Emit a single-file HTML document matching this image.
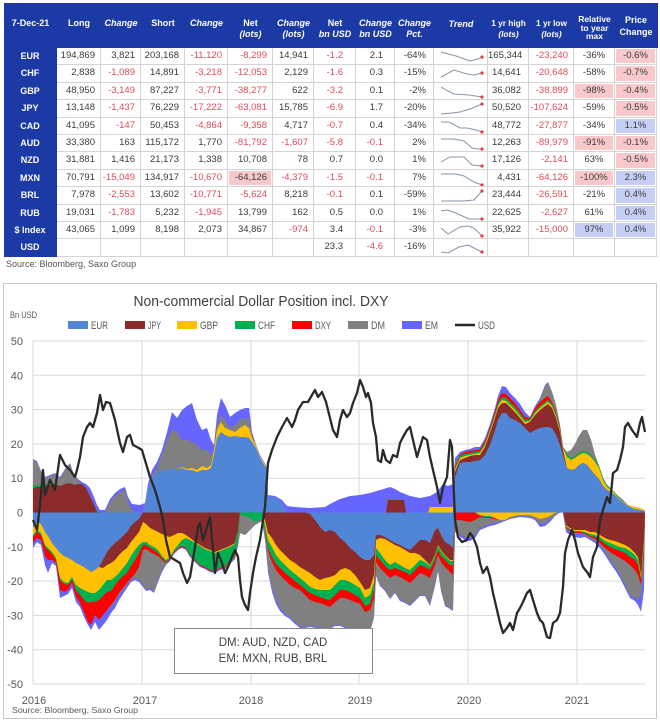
<!DOCTYPE html>
<html><head><meta charset="utf-8">
<style>
body{margin:0;width:660px;height:722px;position:relative;background:#fff;font-family:"Liberation Sans",Arial,sans-serif;overflow:hidden}
.hdr{position:absolute;left:4px;top:3px;width:654px;height:45px;background:#1c3aa6}
.h{position:absolute;color:#fff;font-weight:bold;font-size:9px;text-align:center;line-height:11px;white-space:nowrap}
.grid{position:absolute;left:4px;top:48px;display:grid;grid-template-columns:53px 44px 40px 44px 43px 45px 41px 42px 39px 39px 54px 41px 45px 41px 42px;grid-template-rows:repeat(12,17.42px)}
.grid div{box-sizing:border-box;border-right:1px solid #d4d4d4;border-bottom:1px solid #d4d4d4;font-size:9.5px;line-height:16.4px;text-align:right;padding-right:5px;color:#3a3a3a;white-space:nowrap;overflow:hidden}
.grid div:nth-child(15n+8){padding-right:12px}
.grid div:nth-child(15n+9){padding-right:11px}
.grid div:nth-child(15n+10){padding-right:7px}
.grid div:nth-child(15n+12){padding-right:7px}
.grid div:nth-child(15n+14),.grid div:nth-child(15n+15){text-align:center;padding-right:0}
.grid div.l{background:#1c3aa6;color:#fff;font-weight:bold;text-align:center;padding:0;border-color:#1c3aa6;font-size:9px}
.grid div.t{padding:0}
.grid .r{color:#e04a5a}
.grid .pk{background:#f8c8ca;box-shadow:inset 0 0 0 1px #fff}
.grid .bl{background:#c5cff5;box-shadow:inset 0 0 0 1px #fff}
.t svg{display:block}
.src{position:absolute;left:6px;top:259px;font-size:9px;color:#555}
svg.ch{position:absolute;left:0;top:0}
</style></head><body>
<div class="hdr"></div>
<div class="h" style="left:4px;width:53px;top:17.5px">7-Dec-21</div>
<div class="h" style="left:57px;width:44px;top:17.5px">Long</div>
<div class="h" style="left:101px;width:40px;top:17.5px"><i>Change</i></div>
<div class="h" style="left:141px;width:44px;top:17.5px">Short</div>
<div class="h" style="left:185px;width:43px;top:17.5px"><i>Change</i></div>
<div class="h" style="left:228px;width:45px;top:17.5px">Net<br><i>(lots)</i></div>
<div class="h" style="left:273px;width:41px;top:17.5px"><i>Change<br>(lots)</i></div>
<div class="h" style="left:314px;width:42px;top:17.5px">Net<br><i>bn USD</i></div>
<div class="h" style="left:356px;width:39px;top:17.5px"><i>Change<br>bn USD</i></div>
<div class="h" style="left:395px;width:39px;top:17.5px"><i>Change<br>Pct.</i></div>
<div class="h" style="left:434px;width:54px;top:19px"><i>Trend</i></div>
<div class="h" style="left:488px;width:41px;top:17.5px;font-size:8.3px">1 yr high<br><i>(lots)</i></div>
<div class="h" style="left:529px;width:45px;top:17.5px;font-size:8.3px">1 yr low<br><i>(lots)</i></div>
<div class="h" style="left:574px;width:41px;top:15px;line-height:8.5px;font-size:8.5px">Relative<br>to year<br>max</div>
<div class="h" style="left:615px;width:42px;top:14px;line-height:12px">Price<br>Change</div>

<div class="grid">
<div class="l">EUR</div><div>194,869</div><div>3,821</div><div>203,168</div><div class="r">-11,120</div><div class="r">-8,299</div><div>14,941</div><div class="r">-1.2</div><div>2.1</div><div>-64%</div><div class="t"><svg width="53" height="16"><polyline points="7,4 22,8 36,13 44,11 48,9" fill="none" stroke="#8795ab" stroke-width="1"/><circle cx="48" cy="9" r="1.6" fill="#e23a4a"/></svg></div><div>165,344</div><div class="r">-23,240</div><div>-36%</div><div class="pk">-0.6%</div>
<div class="l">CHF</div><div>2,838</div><div class="r">-1,089</div><div>14,891</div><div class="r">-3,218</div><div class="r">-12,053</div><div>2,129</div><div class="r">-1.6</div><div>0.3</div><div>-15%</div><div class="t"><svg width="53" height="16"><polyline points="7,12 20,5 33,9 40,10 48,8" fill="none" stroke="#8795ab" stroke-width="1"/><circle cx="48" cy="8" r="1.6" fill="#e23a4a"/></svg></div><div>14,641</div><div class="r">-20,648</div><div>-58%</div><div class="pk">-0.7%</div>
<div class="l">GBP</div><div>48,950</div><div class="r">-3,149</div><div>87,227</div><div class="r">-3,771</div><div class="r">-38,277</div><div>622</div><div class="r">-3.2</div><div>0.1</div><div>-2%</div><div class="t"><svg width="53" height="16"><polyline points="7,4 14,8 20,11 35,12 48,14" fill="none" stroke="#8795ab" stroke-width="1"/><circle cx="48" cy="14" r="1.6" fill="#e23a4a"/></svg></div><div>36,082</div><div class="r">-38,899</div><div class="pk">-98%</div><div class="pk">-0.4%</div>
<div class="l">JPY</div><div>13,148</div><div class="r">-1,437</div><div>76,229</div><div class="r">-17,222</div><div class="r">-63,081</div><div>15,785</div><div class="r">-6.9</div><div>1.7</div><div>-20%</div><div class="t"><svg width="53" height="16"><polyline points="7,14 18,13 26,12 36,9 48,4" fill="none" stroke="#8795ab" stroke-width="1"/><circle cx="48" cy="4" r="1.6" fill="#e23a4a"/></svg></div><div>50,520</div><div class="r">-107,624</div><div>-59%</div><div class="pk">-0.5%</div>
<div class="l">CAD</div><div>41,095</div><div class="r">-147</div><div>50,453</div><div class="r">-4,864</div><div class="r">-9,358</div><div>4,717</div><div class="r">-0.7</div><div>0.4</div><div>-34%</div><div class="t"><svg width="53" height="16"><polyline points="7,4 15,4 26,10 33,10 42,12 48,14" fill="none" stroke="#8795ab" stroke-width="1"/><circle cx="48" cy="14" r="1.6" fill="#e23a4a"/></svg></div><div>48,772</div><div class="r">-27,877</div><div>-34%</div><div class="bl">1.1%</div>
<div class="l">AUD</div><div>33,380</div><div>163</div><div>115,172</div><div>1,770</div><div class="r">-81,792</div><div class="r">-1,607</div><div class="r">-5.8</div><div class="r">-0.1</div><div>2%</div><div class="t"><svg width="53" height="16"><polyline points="7,4 20,4 30,6 38,13 43,14 48,14" fill="none" stroke="#8795ab" stroke-width="1"/><circle cx="48" cy="14" r="1.6" fill="#e23a4a"/></svg></div><div>12,263</div><div class="r">-89,979</div><div class="pk">-91%</div><div class="pk">-0.1%</div>
<div class="l">NZD</div><div>31,881</div><div>1,416</div><div>21,173</div><div>1,338</div><div>10,708</div><div>78</div><div>0.7</div><div>0.0</div><div>1%</div><div class="t"><svg width="53" height="16"><polyline points="7,10 16,5 30,5 38,13 48,14" fill="none" stroke="#8795ab" stroke-width="1"/><circle cx="48" cy="14" r="1.6" fill="#e23a4a"/></svg></div><div>17,126</div><div class="r">-2,141</div><div>63%</div><div class="pk">-0.5%</div>
<div class="l">MXN</div><div>70,791</div><div class="r">-15,049</div><div>134,917</div><div class="r">-10,670</div><div class="pk">-64,126</div><div class="r">-4,379</div><div class="r">-1.5</div><div class="r">-0.1</div><div>7%</div><div class="t"><svg width="53" height="16"><polyline points="7,4 22,4 30,6 40,12 48,15" fill="none" stroke="#8795ab" stroke-width="1"/><circle cx="48" cy="15" r="1.6" fill="#e23a4a"/></svg></div><div>4,431</div><div class="r">-64,126</div><div class="pk">-100%</div><div class="bl">2.3%</div>
<div class="l">BRL</div><div>7,978</div><div class="r">-2,553</div><div>13,602</div><div class="r">-10,771</div><div class="r">-5,624</div><div>8,218</div><div class="r">-0.1</div><div>0.1</div><div>-59%</div><div class="t"><svg width="53" height="16"><polyline points="7,14 30,14 40,13 48,4" fill="none" stroke="#8795ab" stroke-width="1"/><circle cx="48" cy="4" r="1.6" fill="#e23a4a"/></svg></div><div>23,444</div><div class="r">-26,591</div><div>-21%</div><div class="bl">0.4%</div>
<div class="l">RUB</div><div>19,031</div><div class="r">-1,783</div><div>5,232</div><div class="r">-1,945</div><div>13,799</div><div>162</div><div>0.5</div><div>0.0</div><div>1%</div><div class="t"><svg width="53" height="16"><polyline points="7,6 14,5 24,9 35,14 48,14" fill="none" stroke="#8795ab" stroke-width="1"/><circle cx="48" cy="14" r="1.6" fill="#e23a4a"/></svg></div><div>22,625</div><div class="r">-2,627</div><div>61%</div><div class="bl">0.4%</div>
<div class="l">$ Index</div><div>43,065</div><div>1,099</div><div>8,198</div><div>2,073</div><div>34,867</div><div class="r">-974</div><div>3.4</div><div class="r">-0.1</div><div>-3%</div><div class="t"><svg width="53" height="16"><polyline points="7,6 14,12 26,5 34,4 40,6 48,14" fill="none" stroke="#8795ab" stroke-width="1"/><circle cx="48" cy="14" r="1.6" fill="#e23a4a"/></svg></div><div>35,922</div><div class="r">-15,000</div><div class="bl">97%</div><div class="bl">0.4%</div>
<div class="l">USD</div><div></div><div></div><div></div><div></div><div></div><div></div><div>23.3</div><div class="r">-4.6</div><div>-16%</div><div class="t"><svg width="53" height="16"><polyline points="7,13 14,14 25,8 34,6 40,9 48,13" fill="none" stroke="#8795ab" stroke-width="1"/><circle cx="48" cy="13" r="1.6" fill="#e23a4a"/></svg></div><div></div><div></div><div></div><div></div>
</div>
<div class="src">Source: Bloomberg, Saxo Group</div>

<svg class="ch" width="660" height="722" viewBox="0 0 660 722" font-family="Liberation Sans, Arial, sans-serif">
<rect x="3.5" y="283.5" width="653" height="435" fill="#fff" stroke="#c8c8c8"/>
<text x="261" y="306" font-size="15" fill="#404040" text-anchor="middle" textLength="255" lengthAdjust="spacingAndGlyphs">Non-commercial Dollar Position incl. DXY</text>
<text x="10" y="318" font-size="9" fill="#595959" textLength="27" lengthAdjust="spacingAndGlyphs">Bn USD</text>
<g font-size="11" fill="#595959">
<rect x="68" y="321" width="20" height="8" fill="#5186d6"/><text x="91" y="329" textLength="17" lengthAdjust="spacingAndGlyphs">EUR</text>
<rect x="125" y="321" width="20" height="8" fill="#8b2b2b"/><text x="148" y="329" textLength="13" lengthAdjust="spacingAndGlyphs">JPY</text>
<rect x="177" y="321" width="20" height="8" fill="#ffc000"/><text x="200" y="329" textLength="18" lengthAdjust="spacingAndGlyphs">GBP</text>
<rect x="235" y="321" width="20" height="8" fill="#00b050"/><text x="258" y="329" textLength="17" lengthAdjust="spacingAndGlyphs">CHF</text>
<rect x="292" y="321" width="20" height="8" fill="#ff0000"/><text x="315" y="329" textLength="16" lengthAdjust="spacingAndGlyphs">DXY</text>
<rect x="348" y="321" width="20" height="8" fill="#808080"/><text x="371" y="329" textLength="14" lengthAdjust="spacingAndGlyphs">DM</text>
<rect x="402" y="321" width="20" height="8" fill="#6666ff"/><text x="425" y="329" textLength="13" lengthAdjust="spacingAndGlyphs">EM</text>
<line x1="455" y1="325" x2="475" y2="325" stroke="#262626" stroke-width="2.5"/><text x="478" y="329" textLength="17" lengthAdjust="spacingAndGlyphs">USD</text>
</g>
<g stroke="#d9d9d9" stroke-width="1">
<line x1="33" y1="341" x2="645" y2="341"/><line x1="33" y1="375.3" x2="645" y2="375.3"/><line x1="33" y1="409.6" x2="645" y2="409.6"/><line x1="33" y1="443.9" x2="645" y2="443.9"/><line x1="33" y1="478.2" x2="645" y2="478.2"/><line x1="33" y1="512.5" x2="645" y2="512.5"/><line x1="33" y1="546.8" x2="645" y2="546.8"/><line x1="33" y1="581.1" x2="645" y2="581.1"/><line x1="33" y1="615.4" x2="645" y2="615.4"/><line x1="33" y1="649.7" x2="645" y2="649.7"/><line x1="33" y1="684" x2="645" y2="684"/>
<line x1="33" y1="341" x2="33" y2="684"/><line x1="142" y1="341" x2="142" y2="684"/><line x1="251" y1="341" x2="251" y2="684"/><line x1="359" y1="341" x2="359" y2="684"/><line x1="468" y1="341" x2="468" y2="684"/><line x1="577" y1="341" x2="577" y2="684"/>
</g>
<g font-size="11" fill="#595959" text-anchor="end">
<text x="23" y="345">50</text><text x="23" y="379.3">40</text><text x="23" y="413.6">30</text><text x="23" y="447.9">20</text><text x="23" y="482.2">10</text><text x="23" y="516.5">0</text><text x="23" y="550.8">-10</text><text x="23" y="585.1">-20</text><text x="23" y="619.4">-30</text><text x="23" y="653.7">-40</text><text x="23" y="688">-50</text>
</g>
<g font-size="11" fill="#595959" text-anchor="middle">
<text x="34" y="704">2016</text><text x="145" y="704">2017</text><text x="251" y="704">2018</text><text x="360" y="704">2019</text><text x="469" y="704">2020</text><text x="577" y="704">2021</text>
</g>
<text x="12" y="713" font-size="8.5" fill="#595959" textLength="126" lengthAdjust="spacingAndGlyphs">Source: Bloomberg, Saxo Group</text>

<!-- positive stack -->
<polygon fill="#6666ff" points="33,512.5 33,459 37,461 41,471 45,477 50,475 55,473 60,477 65,469 70,463 74,475 78,479 82,482 86,484 90,488 94,497 97,505 100,510 105,510 110,499 115,493 120,489 125,487 128,497 132,504 140,505 145,503 148,484 152,470 157,462 162,450 167,432 172,412 177,418 182,410 187,406 192,403 197,420 202,430 207,428 211,440 214,445 217,415 221,398 225,405 230,417 235,413 240,410 245,408 249,408 252,432 256,445 260,455 264,462 267,467 268,495 275,496 282,500 287,506 295,507 310,508 325,507 330,504 340,499 350,496 360,495 370,493 380,490 390,487 395,489 400,492 410,496 420,498 430,496 437,492 443,484 448,486 453,484 455,458 460,452 465,450 470,449 475,447 480,447 485,438 490,424 495,408 498,396 502,386 506,387 510,393 515,398 520,404 525,412 530,417 535,406 540,398 545,385 548,382 552,392 556,405 560,425 563,447 567,452 571,450 575,444 579,436 583,430 587,430 591,440 595,455 599,466 603,478 607,485 612,490 617,495 622,499 628,505 634,507 640,508 645,511 645,512.5"/>
<polygon fill="#808080" points="33,512.5 33,460 37,462 41,472 45,478 50,476 55,474 60,478 65,470 70,464 74,476 78,480 82,484 86,488 90,496 94,505 97,511 100,512.5 105,512.5 110,502 115,496 120,492 125,490 128,503 132,510 135,512.5 143,512.5 145,505 148,490 152,476 157,468 162,455 167,440 172,430 177,432 182,440 187,440 192,442 197,445 202,450 207,450 211,455 214,450 217,425 221,415 225,420 230,428 235,425 240,420 245,418 249,420 252,435 256,445 260,457 264,463 267,468 268,512.5 453,512.5 455,462 460,455 465,452 470,451 475,450 480,449 485,441 490,427 495,411 498,400 502,393 506,394 510,398 515,403 520,410 525,417 530,418 535,408 540,400 545,386 548,383 552,392 556,405 560,425 563,447 567,452 571,450 575,444 579,436 583,430 587,430 591,440 595,455 599,466 603,478 607,485 612,490 617,495 622,500 628,505 634,507 640,508 645,511 645,512.5"/>
<polygon fill="#ff0000" points="33,512.5 453,512.5 455,466 460,455 465,452 470,451 475,450 480,449 485,441 490,427 495,411 498,400 502,393 506,394 510,398 515,403 520,410 525,417 530,418 535,408 540,402 545,398 548,396 552,402 556,413 560,427 563,447 567,455 571,458 575,456 579,453 583,451 587,452 591,455 595,460 599,466 603,478 607,485 612,490 617,495 622,500 628,505 634,507 640,508 645,511 645,512.5"/>
<polygon fill="#00b050" points="33,512.5 33,485 37,485 41,485 45,485 50,484 55,484 60,486 65,484 70,483 74,485 78,484 82,484 86,488 90,496 94,505 97,511 100,512.5 453,512.5 455,468 460,456 465,454 470,453 475,452 480,451 485,443 490,429 495,414 498,403 502,397 506,398 510,402 515,407 520,413 525,420 530,419 535,411 540,406 545,402 548,400 552,404 556,414 560,428 563,447 567,455 571,458 575,456 579,453 583,451 587,452 591,455 595,460 599,466 603,478 607,485 612,490 617,495 622,500 628,505 634,507 640,508 645,511 645,512.5"/>
<polygon fill="#ffc000" points="33,512.5 143,512.5 145,505 148,490 152,478 157,472 162,470 167,470 172,468 177,470 182,467 187,469 192,468 197,470 202,466 207,468 211,465 214,450 217,430 221,422 225,428 230,430 235,432 240,428 245,425 249,428 252,438 256,446 260,457 264,463 267,468 268,512.5 428,512.5 430,507 453,507 455,470 460,458 465,456 470,455 475,454 480,453 485,445 490,431 495,416 498,406 502,400 506,401 510,405 515,410 520,416 525,422 530,421 535,413 540,408 545,404 548,402 552,406 556,416 560,430 563,448 567,457 571,460 575,458 579,455 583,453 587,454 591,457 595,462 599,468 603,480 607,487 612,491 617,496 622,501 628,505 634,507 640,508 645,511 645,512.5"/>
<polygon fill="#8b2b2b" points="33,512.5 33,488 37,487 41,487 45,486 50,485 55,484 60,486 65,484 70,483 74,485 78,484 82,484 86,488 90,496 94,505 97,512 100,512.5 386,512.5 388,500 404,500 406,512.5 453,512.5 455,472 460,460 465,458 470,456 475,455 480,455 485,447 490,433 495,418 498,408 502,403 506,403 510,407 515,412 520,418 525,424 530,422 535,415 540,410 545,406 548,404 552,408 556,418 560,432 563,450 567,468 571,470 575,469 579,465 583,463 587,465 591,470 595,475 599,479 603,486 607,490 612,493 617,497 622,502 628,506 634,509 640,510 645,511 645,512.5"/>
<polygon fill="#5186d6" points="33,512.5 143,512.5 145,505 148,490 152,478 157,472 162,470 167,470 172,468 177,470 182,468 187,470 192,470 197,472 202,470 207,470 211,468 214,455 217,438 221,432 225,435 230,437 235,436 240,437 245,437 249,438 252,442 256,448 260,458 264,465 267,468 268,497 275,498 282,503 287,512.5 453,512.5 455,477 460,463 465,462 470,462 475,461 480,460 485,455 490,445 495,430 498,420 502,413 506,413 510,418 515,420 520,423 525,428 530,433 535,430 540,428 545,427 548,427 552,428 556,435 560,445 563,455 567,468 571,470 575,469 579,465 583,463 587,465 591,470 595,475 599,479 603,486 607,490 612,493 617,497 622,502 628,506 634,509 640,510 645,511 645,512.5"/>

<!-- negative stack -->
<polygon fill="#6666ff" points="33,512.5 33,548 37,542 41,545 45,565 48,573 52,563 56,566 60,598 64,596 68,594 72,588 76,602 80,607 84,617 88,625 91,630 95,622 99,630 103,625 107,620 111,613 115,608 119,600 123,594 127,588 131,582 135,580 139,582 143,587 146,591 150,590 154,593 158,582 162,572 166,565 170,561 174,554 178,550 182,548 186,550 190,557 195,562 200,567 205,569 210,572 215,573 220,570 225,569 230,564 235,559 238,546 240,533 245,535 250,530 255,525 260,522 262,522 265,540 268,572 272,592 276,604 280,611 285,616 290,619 295,624 300,628 305,628 310,627 315,628 320,628 325,629 330,629 335,626 340,626 345,628 350,629 355,631 360,633 365,634 370,631 374,618 376,576 380,586 385,591 390,599 395,593 400,601 405,603 410,606 415,601 420,596 425,596 430,606 435,586 438,571 441,591 445,606 450,609 453,611 455,532 460,537 465,540 470,541 475,538 480,530 485,528 490,526 495,525 500,523 505,521 510,519 520,517 530,518 535,520 540,527 545,526 550,522 555,516 560,512.5 563,512.5 566,532 570,535 575,537 580,538 585,537 590,540 595,543 600,548 605,555 610,563 615,570 620,578 625,588 630,598 635,601 638,605 641,612 644,590 645,512.5"/>
<polygon fill="#808080" points="33,512.5 33,543 37,538 41,540 45,556 48,560 52,560 56,563 60,590 64,592 68,590 72,583 76,597 80,603 84,612 88,622 91,625 95,615 99,620 103,615 107,610 111,607 115,602 119,595 123,590 127,585 131,580 135,578 139,580 143,585 146,590 150,588 154,592 158,580 162,570 166,564 170,560 174,553 178,549 182,547 186,549 190,556 195,561 200,566 205,568 210,571 215,572 220,569 225,568 230,563 235,558 238,545 240,533 245,535 250,530 255,525 260,522 262,521 265,538 268,568 272,588 276,600 280,608 285,614 290,617 295,622 300,627 305,627 310,626 315,627 320,627 325,628 330,628 335,625 340,625 345,627 350,628 355,630 360,632 365,633 370,630 374,617 376,575 380,585 385,590 390,598 395,592 400,600 405,602 410,605 415,600 420,595 425,595 430,605 435,585 438,570 441,590 445,605 450,608 453,610 455,530 460,535 465,537 470,538 475,535 480,528 485,526 490,524 495,523 500,522 505,520 510,518 520,516 530,517 535,519 540,524 545,523 550,520 555,515 560,512.5 563,512.5 566,529 570,532 575,534 580,534 585,535 590,538 595,541 600,545 605,552 610,560 615,567 620,575 625,585 630,595 635,598 638,600 641,595 644,570 645,512.5"/>
<polygon fill="#ff0000" points="33,512.5 33,543 37,538 41,540 45,556 48,560 52,560 56,563 60,590 64,592 68,590 72,583 76,597 80,603 84,612 88,622 91,625 95,615 99,620 103,615 107,610 111,605 115,600 119,593 123,588 127,583 131,578 135,574 139,567 143,550 146,549 150,552 154,554 158,556 162,560 166,563 170,560 174,553 178,549 182,547 186,549 190,556 195,561 200,566 205,568 210,571 215,572 220,569 225,567 230,561 235,556 238,540 240,512.5 262,512.5 265,532 268,551 272,562 276,570 280,575 285,580 290,585 295,588 300,590 305,595 310,600 315,602 320,603 325,605 330,607 335,602 340,598 345,598 350,600 355,602 360,604 365,612 370,610 374,598 376,562 380,568 385,573 390,578 395,575 400,577 405,580 410,583 415,578 420,573 425,575 430,578 435,565 438,555 441,562 445,567 450,572 453,575 455,520 460,520 465,521 470,522 475,520 480,517 485,518 490,518 495,519 500,520 505,520 510,517 520,515 530,515 535,517 540,519 545,518 550,516 555,513 560,512.5 563,512.5 566,528 570,531 575,533 580,533 585,534 590,537 595,539 600,543 605,548 610,552 615,555 620,558 625,561 630,565 635,570 638,575 641,585 644,553 645,512.5"/>
<polygon fill="#00b050" points="33,512.5 33,537 37,532 41,535 45,547 48,550 52,554 56,560 60,580 64,584 68,585 72,580 76,590 80,595 84,600 88,603 91,602 95,602 99,600 103,596 107,592 111,591 115,585 119,580 123,576 127,573 131,566 135,560 139,553 143,545 146,545 150,548 154,550 158,553 162,558 166,562 170,559 174,552 178,548 182,546 186,548 190,555 195,560 200,565 205,567 210,570 215,571 220,568 225,566 230,560 235,555 238,540 240,515 245,516 250,518 255,522 260,520 262,519 265,530 268,548 272,557 276,564 280,568 285,573 290,577 295,581 300,585 305,589 310,593 315,595 320,597 325,599 330,600 335,595 340,590 345,590 350,592 355,595 360,598 365,606 370,604 374,590 376,555 380,560 385,566 390,570 395,568 400,570 405,572 410,575 415,570 420,565 425,567 430,570 435,560 438,550 441,556 445,560 450,565 453,565 455,512.5 475,512.5 480,516 485,517 490,517 495,518 500,520 505,520 510,517 520,515 530,515 535,517 540,519 545,518 550,516 555,513 560,512.5 563,512.5 566,527 570,530 575,532 580,532 585,533 590,536 595,537 600,540 605,544 610,547 615,549 620,551 625,553 630,557 635,560 638,565 641,580 644,548 645,512.5"/>
<polygon fill="#ffc000" points="33,512.5 33,535 37,530 41,533 45,545 48,548 52,552 56,558 60,578 64,582 68,583 72,577 76,585 80,588 84,590 88,592 91,593 95,593 99,590 103,585 107,580 111,580 115,577 119,573 123,568 127,563 131,556 135,550 139,545 143,542 146,542 150,545 154,547 158,550 162,556 166,560 170,557 174,550 178,545 182,540 186,538 190,540 195,543 200,546 205,549 210,551 215,553 220,551 225,549 230,547 235,544 238,530 240,512.5 262,512.5 265,525 268,540 272,547 276,555 280,560 285,565 290,570 295,574 300,578 305,582 310,587 315,589 320,590 325,590 330,590 335,585 340,580 345,580 350,582 355,585 360,588 365,598 370,595 374,582 376,548 380,553 385,560 390,565 395,562 400,565 405,568 410,570 415,565 420,560 425,562 430,566 435,556 438,546 441,551 445,556 450,561 453,561 455,512.5 475,512.5 480,515 485,516 490,516 495,518 500,520 505,520 510,517 520,515 530,515 535,517 540,519 545,518 550,516 555,513 560,512.5 563,512.5 566,526 570,529 575,531 580,531 585,532 590,534 595,535 600,537 605,541 610,543 615,545 620,547 625,548 630,551 635,555 638,560 641,578 644,545 645,512.5"/>
<polygon fill="#8b2b2b" points="33,512.5 97,512.5 99,567 103,568 107,565 111,563 115,560 119,555 123,551 127,548 131,542 135,537 139,532 143,522 146,524 150,528 154,530 158,532 162,534 166,536 170,537 174,535 178,533 182,533 186,535 190,538 195,542 200,545 205,548 210,550 215,552 220,550 225,548 230,546 235,543 238,530 240,512.5 262,512.5 265,520 268,533 272,538 276,545 280,550 285,555 290,560 295,563 300,567 305,570 310,573 315,577 320,580 325,578 330,577 335,575 340,570 345,568 350,570 355,575 360,582 365,590 370,588 374,575 376,540 380,538 385,539 390,542 395,545 400,547 405,550 410,553 415,553 420,555 425,560 430,565 435,555 438,545 441,550 445,555 450,560 453,560 455,512.5 563,512.5 566,525 570,528 575,530 580,530 585,530 590,532 595,532 600,535 605,538 610,540 615,541 620,543 625,545 630,548 635,553 638,557 641,575 644,540 645,512.5"/>
<polygon fill="#5186d6" points="33,512.5 33,528 37,522 41,524 45,532 48,536 52,543 56,548 60,553 64,556 68,558 72,560 76,563 80,565 84,567 88,570 91,572 95,570 99,567 103,560 107,552 111,547 115,543 119,540 123,536 127,532 131,526 135,522 139,519 143,512.5 305,512.5 310,514 315,520 320,527 325,532 330,530 335,532 340,538 345,542 350,548 355,552 360,557 365,560 370,560 374,555 376,535 380,535 385,537 390,540 395,543 400,545 405,548 410,550 415,545 420,540 425,540 430,543 435,530 438,528 441,535 445,542 450,545 453,548 455,512.5 645,512.5"/>

<!-- USD line -->
<polyline fill="none" stroke="#2a2a2a" stroke-width="2.3" stroke-linejoin="round" points="33,520 37,530 40,505 43,470 45,495 50,480 55,490 60,455 65,465 70,470 75,477 77,470 80,457 83,437 87,427 90,423 93,427 97,413 100,395 103,410 106,402 110,403 115,420 120,443 123,452 127,437 130,435 133,445 137,447 142,450 147,467 150,477 155,490 160,507 163,520 166,540 170,557 175,560 180,563 183,573 187,583 190,577 195,547 198,527 200,523 203,540 207,527 210,517 213,550 215,573 218,553 222,563 225,573 228,567 232,557 235,550 238,557 240,580 242,597 245,605 248,610 250,593 253,573 256,557 260,540 262,527 265,507 268,463 272,450 277,437 282,427 287,418 292,427 295,420 298,410 303,402 308,402 312,395 315,390 318,397 322,392 326,402 330,418 333,430 337,437 340,420 343,410 347,417 350,413 353,403 357,393 360,380 363,387 366,397 368,393 371,403 373,423 376,437 378,460 381,462 383,450 386,460 390,463 393,455 397,457 400,443 403,437 407,430 410,427 413,440 417,457 420,447 423,437 427,440 430,457 433,470 437,487 440,503 443,487 447,477 450,440 452,447 455,520 458,537 462,542 467,540 470,533 473,537 477,547 480,563 483,573 487,567 490,577 493,593 497,610 500,623 503,633 507,628 510,623 513,630 517,613 520,608 523,602 527,593 530,590 533,600 537,613 540,620 543,623 547,637 550,638 553,623 557,620 560,613 563,587 565,553 568,540 572,530 575,540 578,553 583,567 587,572 590,577 593,557 597,547 600,520 603,510 607,497 610,503 613,473 617,470 620,460 623,447 625,427 628,423 632,430 637,437 640,423 642,417 645,432"/>

<rect x="174.5" y="628.5" width="198" height="45" fill="#fff" stroke="#8a8a8a"/>
<text x="273" y="646" font-size="11.5" fill="#404040" text-anchor="middle">DM: AUD, NZD, CAD</text>
<text x="273" y="662" font-size="11.5" fill="#404040" text-anchor="middle">EM: MXN, RUB, BRL</text>
</svg>
</body></html>
